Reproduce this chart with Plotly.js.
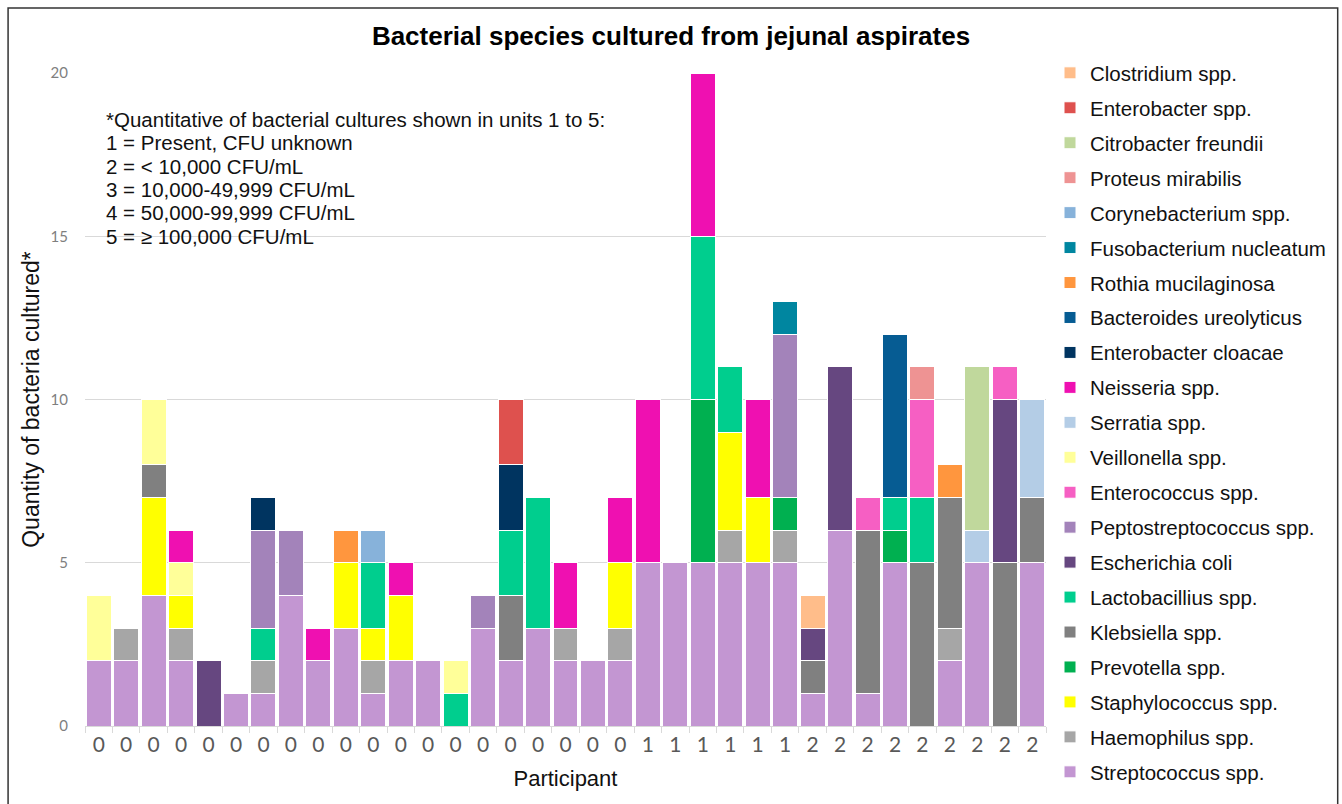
<!DOCTYPE html>
<html><head><meta charset="utf-8">
<script src="https://cdn.plot.ly/plotly-3.0.1.min.js"></script>
<style>html,body{margin:0;padding:0;background:#fff;}#chart{width:1342px;height:804px;}</style>
</head><body><div id="chart"></div>
<script>
// x tick labels (participant group), one per bar
const participantGroups = ['0','0','0','0','0','0','0','0','0','0','0','0','0','0','0','0','0','0','0','0',
  '1','1','1','1','1','1','2','2','2','2','2','2','2','2','2'];

// quantity units per species per participant (stack order bottom -> top)
const streptococcus     = [2,2,4,2,0, 1,1,4,2,3, 1,2,2,0,3, 2,3,2,2,2, 5,5,5,5,5, 5,1,6,1,5, 0,2,5,0,5];
const haemophilus       = [0,1,0,1,0, 0,1,0,0,0, 1,0,0,0,0, 0,0,1,0,1, 0,0,0,1,0, 1,0,0,0,0, 0,1,0,0,0];
const staphylococcus    = [0,0,3,1,0, 0,0,0,0,2, 1,2,0,0,0, 0,0,0,0,2, 0,0,0,3,2, 0,0,0,0,0, 0,0,0,0,0];
const prevotella        = [0,0,0,0,0, 0,0,0,0,0, 0,0,0,0,0, 0,0,0,0,0, 0,0,5,0,0, 1,0,0,0,1, 0,0,0,0,0];
const klebsiella        = [0,0,1,0,0, 0,0,0,0,0, 0,0,0,0,0, 2,0,0,0,0, 0,0,0,0,0, 0,1,0,5,0, 5,4,0,5,2];
const lactobacillus     = [0,0,0,0,0, 0,1,0,0,0, 2,0,0,1,0, 2,4,0,0,0, 0,0,5,2,0, 0,0,0,0,1, 2,0,0,0,0];
const escherichia       = [0,0,0,0,2, 0,0,0,0,0, 0,0,0,0,0, 0,0,0,0,0, 0,0,0,0,0, 0,1,5,0,0, 0,0,0,5,0];
const peptostreptococcus= [0,0,0,0,0, 0,3,2,0,0, 0,0,0,0,1, 0,0,0,0,0, 0,0,0,0,0, 5,0,0,0,0, 0,0,0,0,0];
const enterococcus      = [0,0,0,0,0, 0,0,0,0,0, 0,0,0,0,0, 0,0,0,0,0, 0,0,0,0,0, 0,0,0,1,0, 3,0,0,1,0];
const veillonella       = [2,0,2,1,0, 0,0,0,0,0, 0,0,0,1,0, 0,0,0,0,0, 0,0,0,0,0, 0,0,0,0,0, 0,0,0,0,0];
const serratia          = [0,0,0,0,0, 0,0,0,0,0, 0,0,0,0,0, 0,0,0,0,0, 0,0,0,0,0, 0,0,0,0,0, 0,0,1,0,3];
const neisseria         = [0,0,0,1,0, 0,0,0,1,0, 0,1,0,0,0, 0,0,2,0,2, 5,0,5,0,3, 0,0,0,0,0, 0,0,0,0,0];
const enterobacterCloacae=[0,0,0,0,0, 0,1,0,0,0, 0,0,0,0,0, 2,0,0,0,0, 0,0,0,0,0, 0,0,0,0,0, 0,0,0,0,0];
const bacteroides       = [0,0,0,0,0, 0,0,0,0,0, 0,0,0,0,0, 0,0,0,0,0, 0,0,0,0,0, 0,0,0,0,5, 0,0,0,0,0];
const rothia            = [0,0,0,0,0, 0,0,0,0,1, 0,0,0,0,0, 0,0,0,0,0, 0,0,0,0,0, 0,0,0,0,0, 0,1,0,0,0];
const fusobacterium     = [0,0,0,0,0, 0,0,0,0,0, 0,0,0,0,0, 0,0,0,0,0, 0,0,0,0,0, 1,0,0,0,0, 0,0,0,0,0];
const corynebacterium   = [0,0,0,0,0, 0,0,0,0,0, 1,0,0,0,0, 0,0,0,0,0, 0,0,0,0,0, 0,0,0,0,0, 0,0,0,0,0];
const proteus           = [0,0,0,0,0, 0,0,0,0,0, 0,0,0,0,0, 0,0,0,0,0, 0,0,0,0,0, 0,0,0,0,0, 1,0,0,0,0];
const citrobacter       = [0,0,0,0,0, 0,0,0,0,0, 0,0,0,0,0, 0,0,0,0,0, 0,0,0,0,0, 0,0,0,0,0, 0,0,5,0,0];
const enterobacterSpp   = [0,0,0,0,0, 0,0,0,0,0, 0,0,0,0,0, 2,0,0,0,0, 0,0,0,0,0, 0,0,0,0,0, 0,0,0,0,0];
const clostridium       = [0,0,0,0,0, 0,0,0,0,0, 0,0,0,0,0, 0,0,0,0,0, 0,0,0,0,0, 0,1,0,0,0, 0,0,0,0,0];

const speciesNames = ['Streptococcus spp.','Haemophilus spp.','Staphylococcus spp.','Prevotella spp.','Klebsiella spp.',
  'Lactobacillius spp.','Escherichia coli','Peptostreptococcus spp.','Enterococcus spp.','Veillonella spp.',
  'Serratia spp.','Neisseria spp.','Enterobacter cloacae','Bacteroides ureolyticus','Rothia mucilaginosa',
  'Fusobacterium nucleatum','Corynebacterium spp.','Proteus mirabilis','Citrobacter freundii','Enterobacter spp.','Clostridium spp.'];
const speciesValues = [streptococcus,haemophilus,staphylococcus,prevotella,klebsiella,lactobacillus,escherichia,
  peptostreptococcus,enterococcus,veillonella,serratia,neisseria,enterobacterCloacae,bacteroides,rothia,
  fusobacterium,corynebacterium,proteus,citrobacter,enterobacterSpp,clostridium];
const speciesColors = ['#C396D2','#A6A6A6','#FFFF00','#00B050','#808080','#00CE8E','#664780','#A383BA','#F65FC3','#FFFF99',
  '#B4CDE6','#EF10B1','#003460','#065C93','#FF963E','#0086A0','#87B2DA','#EE9393','#C0D89C','#DE514E','#FFBD8A'];

const noteLines = ['*Quantitative of bacterial cultures shown in units 1 to 5:','1 = Present, CFU unknown','2 = < 10,000 CFU/mL',
  '3 = 10,000-49,999 CFU/mL','4 = 50,000-99,999 CFU/mL','5 = ≥ 100,000 CFU/mL'];

const FW=1342, FH=804, L=85, R=295, T=73, B=78;
const PW=FW-L-R, PH=FH-T-B;
const px = x => (x-L)/PW;
const py = y => (FH-B-y)/PH;
const xIdx = participantGroups.map((_,i)=>i);
const nS = speciesNames.length;

const traces = speciesNames.map((name,k)=>({
  type:'bar', name:name, x:xIdx, y:speciesValues[k].map(v=>v||null),
  legendgroup:'g'+k, legendrank:(nS-k)*10,
  marker:{color:speciesColors[k], line:{color:'#ffffff', width:1}},
  hoverinfo:'name+y'
}));

const annotations = noteLines.map((t,i)=>({
  xref:'paper', yref:'paper', x:px(104), y:py(119+i*23.5), xanchor:'left', yanchor:'middle',
  text:t, showarrow:false, font:{family:'Liberation Sans, Arial', size:20.5, color:'#111111'}
}));

const layout = {
  width:FW, height:FH,
  margin:{l:L, r:R, t:T, b:B, pad:0},
  paper_bgcolor:'#ffffff', plot_bgcolor:'#ffffff',
  barmode:'stack', bargap:0.09,
  title:{text:'<b>Bacterial species cultured from jejunal aspirates</b>', xref:'container', x:0.5, xanchor:'center',
    yref:'container', y:1-36/FH, yanchor:'middle', font:{family:'Liberation Sans, Arial', size:26, color:'#000000'}},
  xaxis:{range:[-0.5, xIdx.length-0.5], tickmode:'array', tickvals:xIdx, ticktext:participantGroups,
    ticks:'', showgrid:false, zeroline:false, showline:true, linecolor:'#d9d9d9', linewidth:1,
    tickfont:{family:'Lato, Open Sans', size:21, color:'#595959'},
    minor:{tickmode:'linear', tick0:-0.5, dtick:1, ticks:'outside', ticklen:6, tickcolor:'#d9d9d9', tickwidth:1, showgrid:false},
    title:{text:'Participant', standoff:15, font:{family:'Liberation Sans, Arial', size:22, color:'#111111'}}},
  yaxis:{range:[0,20], tickmode:'linear', tick0:0, dtick:5, showgrid:true, gridcolor:'#d9d9d9', gridwidth:1,
    zeroline:false, showline:false, ticks:'', ticklabelstandoff:16,
    tickfont:{family:'Lato, Open Sans', size:15, color:'#7f7f7f'},
    title:{text:'Quantity of bacteria cultured*', standoff:4, font:{family:'Liberation Sans, Arial', size:23, color:'#111111'}}},
  legend:{x:px(1050), xanchor:'left', y:py(53), yanchor:'top', traceorder:'grouped', tracegroupgap:5.3,
    maxheight:760, font:{family:'Liberation Sans, Arial', size:20.5, color:'#111111'}, bgcolor:'rgba(0,0,0,0)', itemclick:false},
  annotations:annotations,
  shapes:[{type:'rect', xref:'paper', yref:'paper', x0:px(8), x1:px(1339), y0:py(815), y1:py(8),
    line:{color:'#333333', width:1.5}, fillcolor:'rgba(0,0,0,0)', layer:'above'}]
};

Plotly.newPlot('chart', traces, layout, {displayModeBar:false, staticPlot:true});
</script></body></html>
